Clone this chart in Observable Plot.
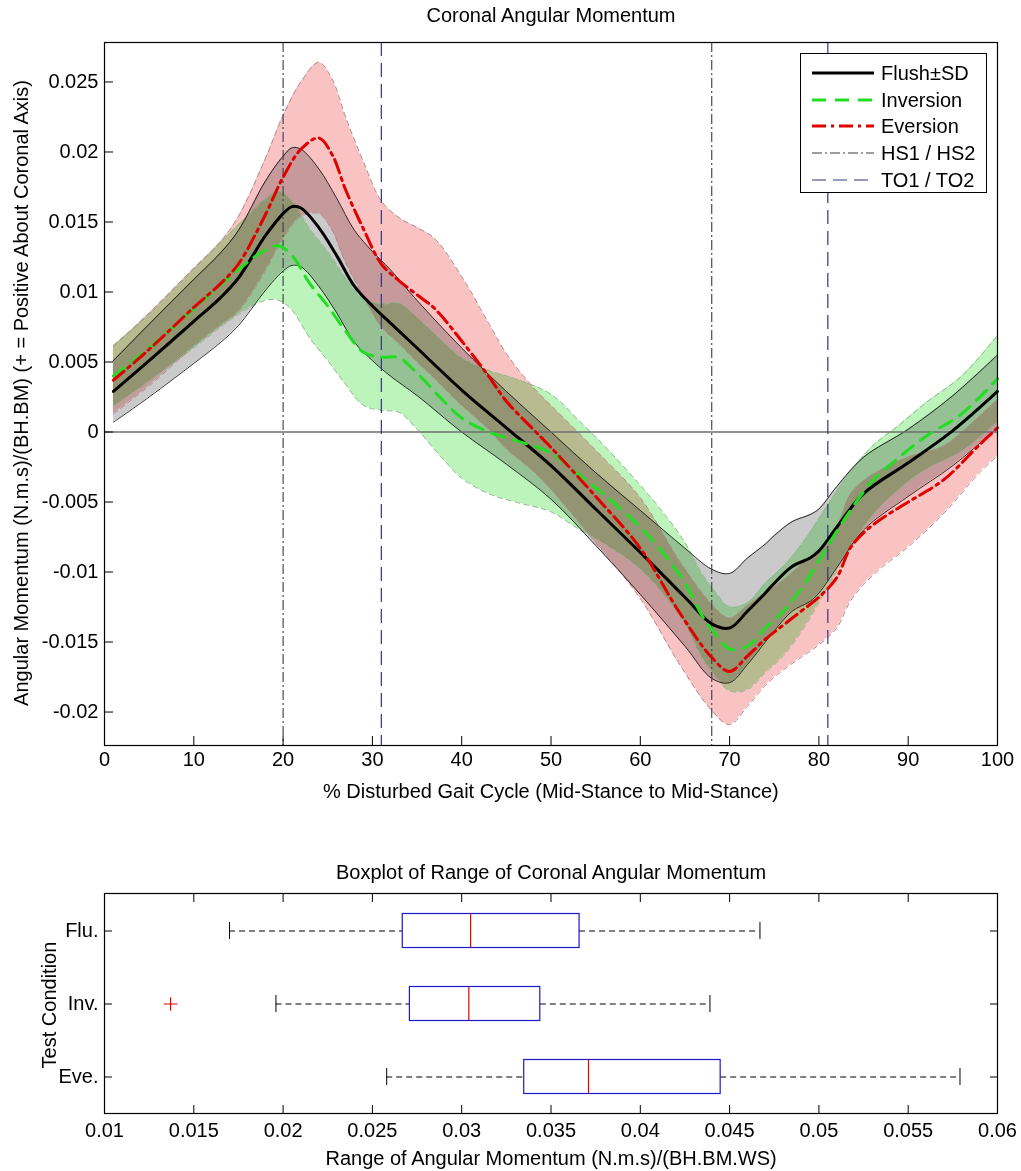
<!DOCTYPE html>
<html><head><meta charset="utf-8">
<script src="https://cdn.jsdelivr.net/npm/d3@7"></script>
<script src="https://cdn.jsdelivr.net/npm/@observablehq/plot@0.6"></script>
<style>
body{margin:0;background:#fff;}
#wrap{position:relative;width:1021px;height:1171px;font-family:"Liberation Sans",Arial,Helvetica,sans-serif;color:#000;overflow:hidden;background:#fff;}
.lbl{position:absolute;font-size:20px;white-space:nowrap;line-height:1;}
.plotbox{position:absolute;left:0;}
#legend{position:absolute;left:800px;top:53px;width:187px;height:140px;border:1px solid #000;background:#fff;box-sizing:border-box;}
.lrow{position:absolute;left:0;height:26px;width:185px;}
.lrow svg{position:absolute;left:11px;top:0;}
.lrow span{position:absolute;left:80px;top:3px;font-size:20px;line-height:1;}
</style></head>
<body><div id="wrap"></div>
<script>
// ---------------- Top chart data (values in N.m.s/(BH.BM)) ----------------
const flushX    = [1, 5, 10, 13, 15, 18, 20, 21, 22, 24, 26, 28, 30, 32, 35, 40, 45, 50, 55, 60, 65, 68, 70, 72, 74, 75, 77, 79, 80, 82, 85, 90, 95, 100];
const flushMean = [0.0029, 0.0051, 0.0079, 0.0096, 0.0110, 0.0140, 0.0156, 0.0161, 0.0160, 0.0146, 0.0126, 0.0104, 0.0090, 0.0078, 0.0060, 0.0030, 0.0003, -0.0024, -0.0055, -0.0086, -0.0118, -0.0137, -0.0140, -0.0128, -0.0115, -0.0108, -0.0096, -0.0090, -0.0085, -0.0068, -0.0044, -0.0022, 0.0001, 0.0029];
const flushSD   = [0.0022, 0.0026, 0.0030, 0.0032, 0.0034, 0.0039, 0.0041, 0.0042, 0.0042, 0.0042, 0.0041, 0.0040, 0.0039, 0.0038, 0.0034, 0.0030, 0.0026, 0.0024, 0.0026, 0.0030, 0.0035, 0.0039, 0.0039, 0.0038, 0.0035, 0.0034, 0.0032, 0.0031, 0.0030, 0.0029, 0.0026, 0.0024, 0.0025, 0.0026];

const invX    = [1, 5, 10, 15, 18, 19.5, 21, 23, 25, 27, 29, 31, 33, 35, 38, 40, 43, 46, 50, 53, 56, 60, 63, 65, 67, 68.5, 70, 72, 74, 76, 78, 80, 83, 86, 89, 92, 96, 100];
const invMean = [0.0040, 0.0060, 0.0088, 0.0116, 0.0130, 0.0133, 0.0126, 0.0106, 0.0090, 0.0072, 0.0057, 0.00535, 0.0053, 0.0042, 0.0022, 0.0010, 0.0000, -0.0006, -0.0015, -0.0030, -0.0045, -0.0068, -0.0090, -0.0108, -0.0132, -0.0145, -0.0155, -0.0153, -0.0140, -0.0128, -0.0112, -0.0092, -0.0061, -0.0035, -0.0018, -0.0003, 0.0013, 0.0038];
const invSD   = [0.0022, 0.0024, 0.0028, 0.0032, 0.0036, 0.0039, 0.0039, 0.0039, 0.0039, 0.0038, 0.0038, 0.0038, 0.0039, 0.0040, 0.0042, 0.0043, 0.0044, 0.0044, 0.0042, 0.0039, 0.0035, 0.0030, 0.0029, 0.0029, 0.0030, 0.0030, 0.0030, 0.0031, 0.0032, 0.0032, 0.0031, 0.0030, 0.0028, 0.0025, 0.0023, 0.0024, 0.0027, 0.0031];

const evX    = [1, 5, 10, 13, 15, 18, 20, 22, 24, 25.5, 27, 29, 31, 33, 35, 37, 40, 43, 45, 48, 50, 55, 60, 64.5, 68, 70, 72, 74, 76, 78, 80, 82, 83.5, 85, 87, 90, 94, 98, 100];
const evMean = [0.0037, 0.0059, 0.0089, 0.0106, 0.0120, 0.0155, 0.0182, 0.0202, 0.0210, 0.0198, 0.0173, 0.0145, 0.0120, 0.0108, 0.0098, 0.0088, 0.0065, 0.0040, 0.0022, 0.0002, -0.0011, -0.0046, -0.0083, -0.0130, -0.0161, -0.0171, -0.0160, -0.0148, -0.0138, -0.0128, -0.0118, -0.0104, -0.0083, -0.0072, -0.0062, -0.0050, -0.0034, -0.0009, 0.0003];
const evSD   = [0.0024, 0.0026, 0.0028, 0.0030, 0.0034, 0.0040, 0.0044, 0.0048, 0.0054, 0.0054, 0.0052, 0.0048, 0.0045, 0.0045, 0.0048, 0.0050, 0.0046, 0.0038, 0.0034, 0.0030, 0.0030, 0.0033, 0.0036, 0.0037, 0.0038, 0.0038, 0.0036, 0.0033, 0.0032, 0.0033, 0.0034, 0.0036, 0.0038, 0.0037, 0.0035, 0.0032, 0.0024, 0.0020, 0.0020];

const hsEvents = [20, 68];   // HS1 / HS2
const toEvents = [31, 81];   // TO1 / TO2

const xLimits = [0, 100];
const xTicks  = [0, 10, 20, 30, 40, 50, 60, 70, 80, 90, 100];
const yLimits = [-0.02239, 0.02782];
const yTicks  = [-0.02, -0.015, -0.01, -0.005, 0, 0.005, 0.01, 0.015, 0.02, 0.025];

// ---------------- Boxplot data ----------------
const conds     = ["Flu.", "Inv.", "Eve."];
const whiskLo   = [0.0170, 0.0196, 0.0258];
const q1        = [0.0267, 0.0271, 0.0335];
const medians   = [0.0305, 0.0304, 0.0371];
const q3        = [0.0366, 0.0344, 0.0445];
const whiskHi   = [0.0467, 0.0439, 0.0579];
const outCond   = ["Inv."];
const outValue  = [0.0137];
const boxXLimits = [0.01, 0.06];
const boxTicks   = [0.01, 0.015, 0.02, 0.025, 0.03, 0.035, 0.04, 0.045, 0.05, 0.055, 0.06];

// ---------------- Text ----------------
const topTitle = "Coronal Angular Momentum";
const topXLabel = "% Disturbed Gait Cycle (Mid-Stance to Mid-Stance)";
const topYLabel = "Angular Momentum (N.m.s)/(BH.BM) (+ = Positive About Coronal Axis)";
const boxTitle = "Boxplot of Range of Coronal Angular Momentum";
const boxXLabel = "Range of Angular Momentum (N.m.s)/(BH.BM.WS)";
const boxYLabel = "Test Condition";
const legendLabels = ["Flush\u00B1SD", "Inversion", "Eversion", "HS1 / HS2", "TO1 / TO2"];

// ---------------- Build ----------------
const FONT = '"Liberation Sans", Arial, Helvetica, sans-serif';
const fmt = d => String(+d.toFixed(3));
const curve = "catmull-rom";
const toRows = (X, M, S) => X.map((x, i) => ({x, m: M[i], lo: M[i] - S[i], hi: M[i] + S[i]}));
const flush = toRows(flushX, flushMean, flushSD);
const inv = toRows(invX, invMean, invSD);
const ev = toRows(evX, evMean, evSD);

const C = {
  flushFill: "#8a8a8a", invFill: "#45e045", evFill: "#f26060",
  flush: "#000000", inv: "#22dd22", ev: "#e00000",
  invEdge: "#8fb88f", evEdge: "#b48888",
  hs: "#3a3a48", to: "#34347a"
};

const wrap = document.getElementById("wrap");

const topPlot = Plot.plot({
  width: 1021, height: 810,
  marginLeft: 104, marginRight: 24, marginTop: 42, marginBottom: 65,
  style: {fontSize: "20px", fontFamily: FONT, background: "#fff", color: "#000"},
  x: {domain: xLimits},
  y: {domain: yLimits},
  marks: [
    Plot.areaY(flush, {x: "x", y1: "lo", y2: "hi", fill: C.flushFill, fillOpacity: 0.45, mixBlendMode: "multiply", curve}),
    Plot.areaY(inv, {x: "x", y1: "lo", y2: "hi", fill: C.invFill, fillOpacity: 0.36, mixBlendMode: "multiply", curve}),
    Plot.areaY(ev, {x: "x", y1: "lo", y2: "hi", fill: C.evFill, fillOpacity: 0.38, mixBlendMode: "multiply", curve}),
    Plot.lineY(inv, {x: "x", y: "hi", stroke: C.invEdge, strokeWidth: 1, strokeDasharray: "5,4", curve}),
    Plot.lineY(inv, {x: "x", y: "lo", stroke: C.invEdge, strokeWidth: 1, strokeDasharray: "5,4", curve}),
    Plot.lineY(ev, {x: "x", y: "hi", stroke: C.evEdge, strokeWidth: 1, strokeDasharray: "5,4", curve}),
    Plot.lineY(ev, {x: "x", y: "lo", stroke: C.evEdge, strokeWidth: 1, strokeDasharray: "5,4", curve}),
    Plot.lineY(flush, {x: "x", y: "hi", stroke: "#000", strokeWidth: 0.8, curve}),
    Plot.lineY(flush, {x: "x", y: "lo", stroke: "#000", strokeWidth: 0.8, curve}),
    Plot.ruleY([0], {stroke: "#6e6e6e", strokeWidth: 1.5}),
    Plot.ruleX(hsEvents, {stroke: C.hs, strokeWidth: 1.1, strokeDasharray: "10,3,2,3"}),
    Plot.ruleX(toEvents, {stroke: C.to, strokeWidth: 1.2, strokeDasharray: "14,7"}),
    Plot.lineY(flush, {x: "x", y: "m", stroke: C.flush, strokeWidth: 3, curve}),
    Plot.lineY(inv, {x: "x", y: "m", stroke: C.inv, strokeWidth: 3, strokeDasharray: "14,9", curve}),
    Plot.lineY(ev, {x: "x", y: "m", stroke: C.ev, strokeWidth: 3, strokeDasharray: "14,5,3,5", curve}),
    Plot.axisX({ticks: xTicks, tickSize: -9, tickPadding: 15, tickFormat: d => String(d), label: null}),
    Plot.axisY({ticks: yTicks, tickSize: -9, tickPadding: 15, tickFormat: fmt, label: null}),
    Plot.frame({stroke: "#000", strokeWidth: 1.2})
  ]
});
topPlot.classList.add("plotbox");
topPlot.style.top = "0px";
wrap.appendChild(topPlot);

const boxRows = conds.map((c, i) => ({c, lo: whiskLo[i], q1: q1[i], med: medians[i], q3: q3[i], hi: whiskHi[i]}));
const outRows = outCond.map((c, i) => ({c, v: outValue[i]}));

const boxPlot = Plot.plot({
  width: 1021, height: 320,
  marginLeft: 104, marginRight: 24, marginTop: 43, marginBottom: 57,
  style: {fontSize: "20px", fontFamily: FONT, background: "transparent", color: "#000"},
  x: {domain: boxXLimits},
  y: {domain: conds, padding: 0, type: "band"},
  marks: [
    Plot.ruleY(boxRows, {y: "c", x1: "lo", x2: "q1", stroke: "#000", strokeDasharray: "6,4"}),
    Plot.ruleY(boxRows, {y: "c", x1: "q3", x2: "hi", stroke: "#000", strokeDasharray: "6,4"}),
    Plot.tickX(boxRows, {x: "lo", y: "c", stroke: "#000", insetTop: 28, insetBottom: 28}),
    Plot.tickX(boxRows, {x: "hi", y: "c", stroke: "#000", insetTop: 28, insetBottom: 28}),
    Plot.barX(boxRows, {x1: "q1", x2: "q3", y: "c", fill: "none", stroke: "#1a1acc", strokeWidth: 1.2, insetTop: 19.5, insetBottom: 19.5}),
    Plot.tickX(boxRows, {x: "med", y: "c", stroke: "#e00000", strokeWidth: 1.2, insetTop: 19.5, insetBottom: 19.5}),
    Plot.dot(outRows, {x: "v", y: "c", symbol: "plus", stroke: "#e00000", r: 4.5, strokeWidth: 1.2}),
    Plot.axisX({anchor: "bottom", ticks: boxTicks, tickSize: -8, tickPadding: 17, tickFormat: fmt, label: null}),
    Plot.axisX({anchor: "top", ticks: boxTicks, tickSize: -8, tickFormat: () => "", label: null}),
    Plot.axisY({anchor: "left", tickSize: -8, tickPadding: 14, label: null}),
    Plot.axisY({anchor: "right", tickSize: -8, tickFormat: () => "", label: null}),
    Plot.frame({stroke: "#000", strokeWidth: 1.2})
  ]
});
boxPlot.classList.add("plotbox");
boxPlot.style.top = "850px";
wrap.appendChild(boxPlot);

// ---------------- Text labels ----------------
function addLabel(text, cx, cy, rotate) {
  const d = document.createElement("div");
  d.className = "lbl";
  d.textContent = text;
  d.style.fontFamily = FONT;
  wrap.appendChild(d);
  const w = d.offsetWidth, h = d.offsetHeight;
  d.style.left = (cx - w / 2) + "px";
  d.style.top = (cy - h / 2) + "px";
  if (rotate) d.style.transform = `rotate(${rotate}deg)`;
}
addLabel(topTitle, 551, 15);
addLabel(topXLabel, 551, 791);
addLabel(topYLabel, 21, 393, -90);
addLabel(boxTitle, 551, 872);
addLabel(boxXLabel, 551, 1158);
addLabel(boxYLabel, 49, 1005, -90);

// ---------------- Legend ----------------
const legendStyles = [
  {stroke: C.flush, width: 3, dash: null},
  {stroke: C.inv, width: 3, dash: "14,9"},
  {stroke: C.ev, width: 3, dash: "14,5,3,5"},
  {stroke: C.hs, width: 1, dash: "10,3,2,3"},
  {stroke: C.to, width: 1.2, dash: "14,7"}
];
const leg = document.createElement("div");
leg.id = "legend";
wrap.appendChild(leg);
legendLabels.forEach((lab, i) => {
  const row = document.createElement("div");
  row.className = "lrow";
  row.style.top = (6 + i * 26.7) + "px";
  const s = legendStyles[i];
  row.innerHTML = `<svg width="62" height="26"><line x1="0" x2="62" y1="13" y2="13" stroke="${s.stroke}" stroke-width="${s.width}" ${s.dash ? `stroke-dasharray="${s.dash}"` : ""}/></svg><span style="font-family:${FONT.replace(/"/g, "'")}">${lab}</span>`;
  leg.appendChild(row);
});
</script>
</body></html>
